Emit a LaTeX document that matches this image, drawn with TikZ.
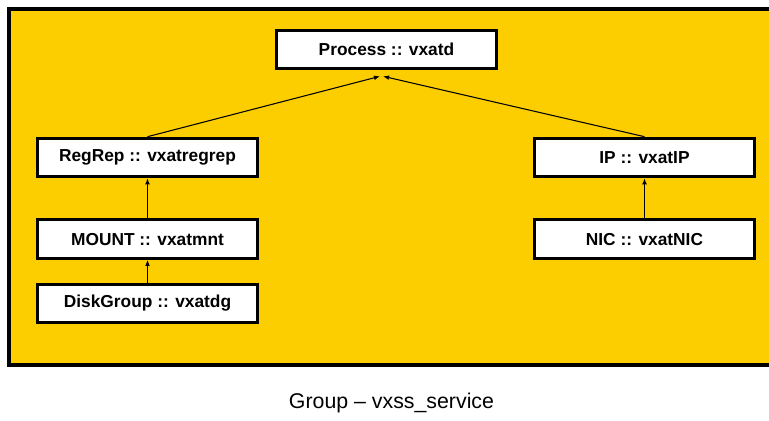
\documentclass[tikz,border=0pt]{standalone}
\usepackage{fontspec}
\setmainfont{Liberation Sans}
\usepackage{xcolor}
\usepackage{tikz}
\usetikzlibrary{arrows.meta, positioning}

\definecolor{grpyellow}{RGB}{252,206,0}

\begin{document}
\begin{tikzpicture}[
    x=0.75pt, y=-0.75pt,
    node distance=30pt,
    res/.style={draw, line width=2.2pt, fill=white, minimum width=165pt, minimum height=29pt,
        inner sep=0pt, text centered, font=\fontsize{13}{15}\selectfont\bfseries},
    arrow/.style={-{Latex[length=4.5pt, width=3.6pt]}, line width=0.8pt},
]

\clip (0,0) rectangle (769,421);

% === GROUP ===
\draw[fill=grpyellow, line width=3pt] (9,9) rectangle (790,365);

\node[font=\fontsize{16}{18}\selectfont] (grp_title) at (391.5,403) {Group -- vxss\_service};

% === RESOURCES ===
\node[res] (proc) at (386.5,49.5) {Process :: vxatd};

\node[res] (regrep) at (147.5,157.5) {RegRep :: vxatregrep};
\node[res, below=of regrep] (mount) {MOUNT :: vxatmnt};
\node[res, below=17pt of mount] (dg) {DiskGroup :: vxatdg};

\node[res] (ip) at (644.5,157.5) {IP :: vxatIP};
\node[res, below=of ip] (nic) {NIC :: vxatNIC};

% arrow ends just under the Process box
\coordinate (tip_l) at ([xshift=-4.9pt, yshift=-4.5pt]proc.south);
\coordinate (tip_r) at ([xshift=-2.6pt, yshift=-4.5pt]proc.south);

\draw[arrow] (regrep.north) -- (tip_l);
\draw[arrow] (ip.north) -- (tip_r);
\draw[arrow] (mount) -- (regrep);
\draw[arrow] (dg) -- (mount);
\draw[arrow] (nic) -- (ip);

\end{tikzpicture}
\end{document}
